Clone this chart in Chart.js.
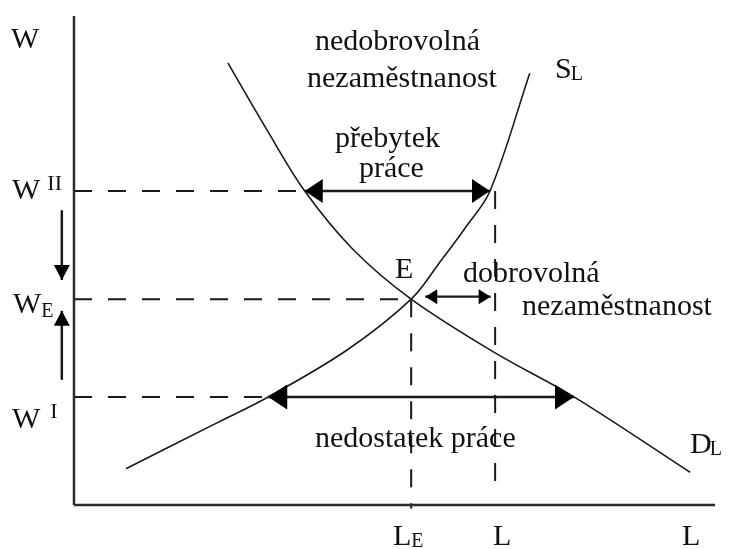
<!DOCTYPE html>
<html><head><meta charset="utf-8">
<script src="https://cdn.jsdelivr.net/npm/chart.js@4.4.1/dist/chart.umd.min.js"></script>
<style>html,body{margin:0;padding:0;background:#fff;}canvas{display:block;}</style>
</head><body>
<canvas id="c" width="733" height="549"></canvas>
<script>
// ---- data (labour quantity L on x, wage W on y; both 0..100) ----
const supplyL = [8.1, 22.3, 30.3, 42.6, 52.6, 57.1, 61.0, 64.9, 71.1];
const supplyW = [7.4, 16.8, 22.1, 31.7, 42.1, 49.7, 56.6, 64.2, 88.3];
const demandL = [24.0, 30.1, 36.0, 43.5, 52.6, 65.7, 78.0, 96.1];
const demandW = [90.4, 76.7, 64.2, 52.3, 42.1, 31.1, 22.1, 6.7];
const wageLevels = { W2: 64.2, WE: 42.1, W1: 22.1 };
const labourLevels = { LE: 52.6, L: 65.7 };
const surplusRange = [36.0, 64.9];      // at W2 (demand .. supply)
const shortageRange = [30.3, 78.0];     // at W1 (supply .. demand)
const voluntaryRange = [54.8, 65.0];    // just above WE
const voluntaryW = 42.6;
const adjustDown = [60.3, 46.0];        // wage falling towards WE
const adjustUp = [25.6, 39.7];          // wage rising towards WE
const adjustL = -1.9;
const axisMax = 100;

const yTickLabels = [
  { main: 'W', x: -9.83, y: 93.46 },
  { main: 'W', sup: 'II', x: -9.67, y: 62.58, gap: 7, dy: -9 },
  { main: 'W', sub: 'E', x: -9.52, y: 39.26, gap: 0, dy: 4 },
  { main: 'W', sup: 'I', x: -9.67, y: 15.75, gap: 10, dy: -10 }
];
const xTickLabels = [
  { main: 'L', sub: 'E', x: 49.77, y: -8.18, gap: 0, dy: 2 },
  { main: 'L', x: 65.37, y: -8.18 },
  { main: 'L', x: 94.85, y: -8.18 }
];
const noteLabels = [
  { main: 'nedobrovolná', x: 37.60, y: 93.05 },
  { main: 'nezaměstnanost', x: 36.35, y: 85.48 },
  { main: 'přebytek', x: 40.72, y: 73.21 },
  { main: 'práce', x: 44.46, y: 67.08 },
  { main: 'S', sub: 'L', x: 75.04, y: 87.32, gap: -1, dy: 2 },
  { main: 'E', x: 50.08, y: 46.42 },
  { main: 'dobrovolná', x: 60.69, y: 45.60 },
  { main: 'nezaměstnanost', x: 69.89, y: 38.85 },
  { main: 'nedostatek práce', x: 37.60, y: 11.86 },
  { main: 'D', sub: 'L', x: 96.10, y: 10.63, gap: -2, dy: 2 }
];

const pts = (xs, ys) => xs.map((x, i) => ({ x, y: ys[i] }));
const ink = '#1a1a1a';
const dashStyle = { borderColor: ink, borderWidth: 2, borderDash: [18, 16] };

const datasets = [
  { data: [{x:0,y:0},{x:0,y:axisMax}], borderColor: '#2b2b2b', borderWidth: 2.5 },
  { data: [{x:0,y:0},{x:axisMax,y:0}], borderColor: '#2b2b2b', borderWidth: 2.5 },
  // dashed guides
  { data: [{x:0,y:wageLevels.W2},{x:surplusRange[0],y:wageLevels.W2}], ...dashStyle },
  { data: [{x:0,y:wageLevels.WE},{x:labourLevels.LE,y:wageLevels.WE}], ...dashStyle },
  { data: [{x:0,y:wageLevels.W1},{x:shortageRange[0],y:wageLevels.W1}], ...dashStyle },
  { data: [{x:labourLevels.LE,y:wageLevels.WE},{x:labourLevels.LE,y:-0.7}], ...dashStyle },
  { data: [{x:labourLevels.L,y:wageLevels.W2},{x:labourLevels.L,y:2.7}], ...dashStyle },
  // curves
  { data: pts(supplyL, supplyW), borderColor: ink, borderWidth: 1.6, tension: 0.35 },
  { data: pts(demandL, demandW), borderColor: ink, borderWidth: 1.6, tension: 0.35 },
  // arrows
  { data: [{x:surplusRange[0],y:wageLevels.W2},{x:surplusRange[1],y:wageLevels.W2}], borderColor: ink, borderWidth: 2.5, arrowHeads: 'both', headLen: 18, headHalf: 12 },
  { data: [{x:shortageRange[0],y:wageLevels.W1},{x:shortageRange[1],y:wageLevels.W1}], borderColor: ink, borderWidth: 2.5, arrowHeads: 'both', headLen: 19, headHalf: 12.5 },
  { data: [{x:voluntaryRange[0],y:voluntaryW},{x:voluntaryRange[1],y:voluntaryW}], borderColor: ink, borderWidth: 2.2, arrowHeads: 'both', headLen: 12, headHalf: 7.5 },
  { data: [{x:adjustL,y:adjustDown[0]},{x:adjustL,y:adjustDown[1]}], borderColor: ink, borderWidth: 2.5, arrowHeads: 'end', headLen: 15, headHalf: 8 },
  { data: [{x:adjustL,y:adjustUp[0]},{x:adjustL,y:adjustUp[1]}], borderColor: ink, borderWidth: 2.5, arrowHeads: 'end', headLen: 15, headHalf: 8 }
].map(d => Object.assign({ showLine: true, pointRadius: 0, pointHoverRadius: 0, fill: false, tension: 0, clip: false }, d));

const arrowPlugin = {
  id: 'arrowHeads',
  afterDatasetsDraw(chart) {
    const ctx = chart.ctx;
    chart.data.datasets.forEach((ds, i) => {
      if (!ds.arrowHeads) return;
      const el = chart.getDatasetMeta(i).data;
      const a = el[0], b = el[el.length - 1];
      const head = (tip, from) => {
        const ang = Math.atan2(tip.y - from.y, tip.x - from.x);
        const bx = tip.x - ds.headLen * Math.cos(ang), by = tip.y - ds.headLen * Math.sin(ang);
        const nx = -Math.sin(ang) * ds.headHalf, ny = Math.cos(ang) * ds.headHalf;
        ctx.beginPath();
        ctx.moveTo(tip.x, tip.y);
        ctx.lineTo(bx + nx, by + ny);
        ctx.lineTo(bx - nx, by - ny);
        ctx.closePath();
        ctx.fillStyle = '#000';
        ctx.fill();
      };
      ctx.save();
      head(b, a);
      if (ds.arrowHeads === 'both') head(a, b);
      ctx.restore();
    });
  }
};

const textPlugin = {
  id: 'texts',
  afterDraw(chart) {
    const ctx = chart.ctx, sx = chart.scales.x, sy = chart.scales.y;
    const family = '"Liberation Serif", "Times New Roman", serif';
    ctx.save();
    ctx.fillStyle = '#111';
    ctx.textBaseline = 'alphabetic';
    ctx.textAlign = 'left';
    [...yTickLabels, ...xTickLabels, ...noteLabels].forEach(l => {
      const px = sx.getPixelForValue(l.x), py = sy.getPixelForValue(l.y);
      ctx.font = '30px ' + family;
      ctx.fillText(l.main, px, py);
      const w = ctx.measureText(l.main).width;
      if (l.sub) { ctx.font = '20px ' + family; ctx.fillText(l.sub, px + w + l.gap, py + l.dy); }
      if (l.sup) { ctx.font = '22px ' + family; ctx.fillText(l.sup, px + w + l.gap, py + l.dy); }
    });
    ctx.restore();
  }
};

new Chart(document.getElementById('c'), {
  type: 'scatter',
  data: { datasets },
  options: {
    responsive: false,
    animation: false,
    events: [],
    layout: { padding: 0 },
    scales: {
      x: { type: 'linear', min: -11.544, max: 102.808, display: false },
      y: { type: 'linear', min: -8.998, max: 103.272, display: false }
    },
    plugins: { legend: { display: false }, tooltip: { enabled: false } }
  },
  plugins: [arrowPlugin, textPlugin]
});
</script>
</body></html>
